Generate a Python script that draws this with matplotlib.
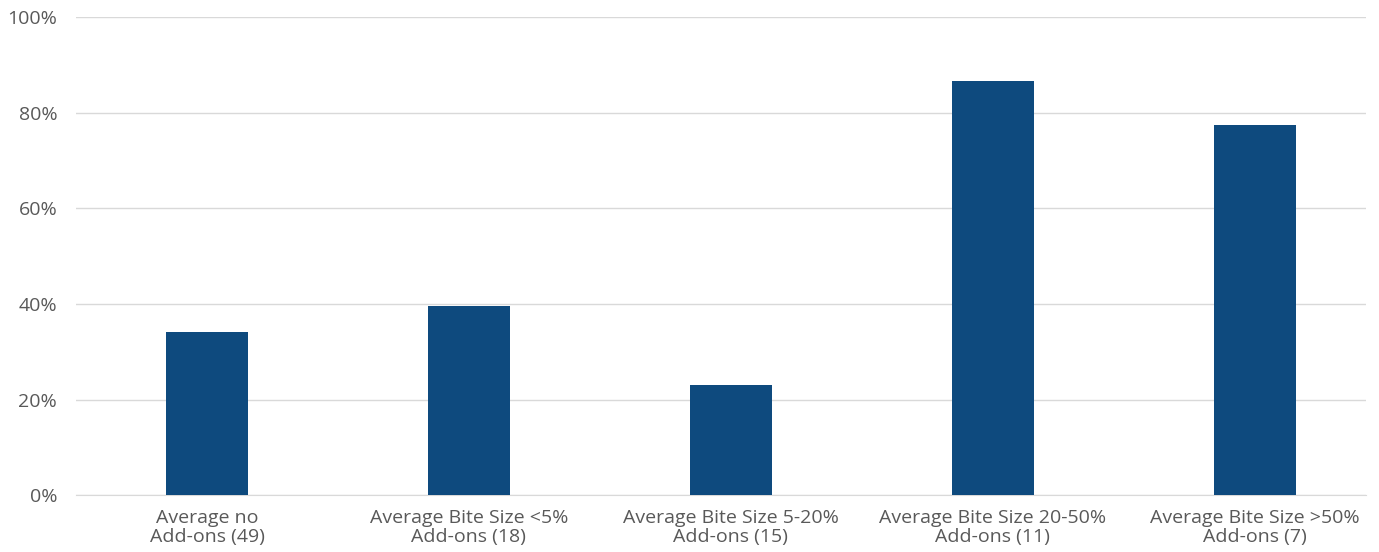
import matplotlib.pyplot as plt
import numpy as np
from matplotlib.ticker import PercentFormatter

categories = ['Average no\nAdd-ons (49)',
              'Average Bite Size <5%\nAdd-ons (18)',
              'Average Bite Size 5-20%\nAdd-ons (15)',
              'Average Bite Size 20-50%\nAdd-ons (11)',
              'Average Bite Size >50%\nAdd-ons (7)']
values = [34.2, 39.5, 23.1, 86.7, 77.5]

plt.rcParams['font.family'] = ['Open Sans', 'DejaVu Sans']

fig = plt.figure(figsize=(13.79, 5.52), dpi=100)
ax = fig.add_axes([0.0551, 0.1027, 0.9355, 0.8665])

x = np.arange(len(categories))
ax.bar(x, values, width=0.313, color='#0e4a7e', zorder=3)

ax.set_xlim(-0.5, 4.425)
ax.set_ylim(0, 100)
ax.set_yticks(np.arange(0, 101, 20))
ax.yaxis.set_major_formatter(PercentFormatter(decimals=0))
ax.set_xticks(x)
ax.set_xticklabels(categories, fontsize=14, color='#595959', linespacing=1.12)
ax.tick_params(axis='y', labelsize=14, labelcolor='#595959', length=0, pad=13.5)
ax.tick_params(axis='x', length=0, pad=9.5)

ax.grid(axis='y', color='#d9d9d9', linewidth=1.0, zorder=0)
for s in ['top', 'right', 'left']:
    ax.spines[s].set_visible(False)
ax.spines['bottom'].set_color('#d9d9d9')

fig.savefig('out.png', dpi=100)
